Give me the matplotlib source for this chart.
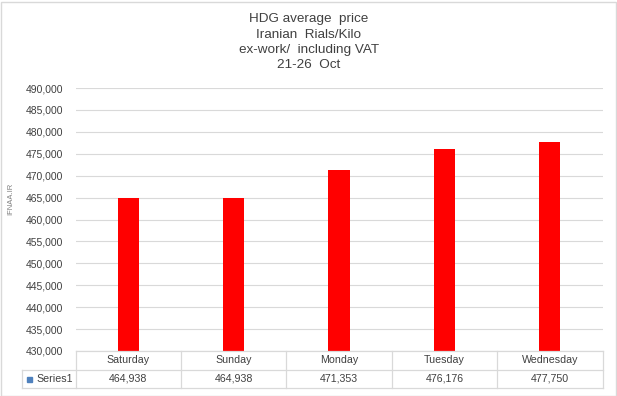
import numpy as np
import matplotlib.pyplot as plt
from matplotlib.lines import Line2D
from matplotlib.patches import Rectangle

# Data
DAYS = ['Saturday', 'Sunday', 'Monday', 'Tuesday', 'Wednesday']
PRICES = [464938, 464938, 471353, 476176, 477750]
SERIES_NAME = 'Series1'
TITLE_LINES = ['HDG average  price', 'Iranian  Rials/Kilo', 'ex-work/  including VAT', '21-26  Oct']
Y_MIN, Y_MAX, Y_STEP = 430000, 490000, 5000

W, H = 617, 396
GRID_COLOR = '#D9D9D9'
TEXT_COLOR = '#404040'
BAR_COLOR = '#FF0000'
TITLE_FONT = ['Liberation Sans Narrow', 'Liberation Sans', 'DejaVu Sans']
TICK_FONT = ['Liberation Sans', 'DejaVu Sans']


def px(x, y):
    """pixel (from top-left) to figure fraction"""
    return x / W, 1 - y / H


fig = plt.figure(figsize=(W / 100, H / 100), dpi=100)

# Plot area
left, right, top, bottom = 75.5, 602.5, 88, 351
ax = fig.add_axes([left / W, 1 - bottom / H, (right - left) / W, (bottom - top) / H])

x = np.arange(len(DAYS))
ax.bar(x, PRICES, width=0.2, color=BAR_COLOR, zorder=3)
ax.set_xlim(-0.5, len(DAYS) - 0.5)
ax.set_ylim(Y_MIN, Y_MAX)
ticks = np.arange(Y_MIN, Y_MAX + 1, Y_STEP)
ax.set_yticks(ticks)
ax.set_yticklabels([f'{t:,}' for t in ticks], fontsize=7.5, color=TEXT_COLOR, family=TICK_FONT)
ax.tick_params(axis='y', length=0, pad=9)
ax.set_xticks([])
ax.grid(axis='y', color=GRID_COLOR, lw=0.8, zorder=0)
for s in ax.spines.values():
    s.set_visible(False)

# Title
for i, line in enumerate(TITLE_LINES):
    fig.text(*px(309, 19 + i * 15.5), line, ha='center', va='center',
             fontsize=9.7, color=TEXT_COLOR, family=TITLE_FONT)

# Watermark
fig.text(*px(11, 199), 'IFNAA.IR', rotation=90, ha='center', va='center',
         fontsize=5.5, color='#7F7F7F', family=TICK_FONT)

# Data table below the plot
tab_left, tab_top, tab_mid, tab_bot = 22.5, 351, 369.5, 388
col_w = (right - left) / len(DAYS)
col_edges = [left + i * col_w for i in range(len(DAYS) + 1)]


def hline(y, x0, x1):
    fig.add_artist(Line2D([x0 / W, x1 / W], [1 - y / H, 1 - y / H], color=GRID_COLOR, lw=0.9))


def vline(xp, y0, y1):
    fig.add_artist(Line2D([xp / W, xp / W], [1 - y0 / H, 1 - y1 / H], color=GRID_COLOR, lw=0.9))


hline(tab_top, left, right)
hline(tab_mid, tab_left, right)
hline(tab_bot, tab_left, right)
vline(tab_left, tab_mid, tab_bot)
for xe in col_edges:
    vline(xe, tab_top, tab_bot)

for i, (day, val) in enumerate(zip(DAYS, PRICES)):
    cx = (col_edges[i] + col_edges[i + 1]) / 2
    fig.text(*px(cx, (tab_top + tab_mid) / 2), day, ha='center', va='center',
             fontsize=7.7, color=TEXT_COLOR, family=TICK_FONT)
    fig.text(*px(cx, (tab_mid + tab_bot) / 2), f'{val:,}', ha='center', va='center',
             fontsize=7.7, color=TEXT_COLOR, family=TICK_FONT)

# Legend key in the table
fig.add_artist(Rectangle(px(26.5, 382), 5 / W, 5 / H, color='#4F81BD'))
fig.text(*px(36, (tab_mid + tab_bot) / 2), SERIES_NAME, ha='left', va='center',
         fontsize=7.7, color=TEXT_COLOR, family=TICK_FONT)

# Chart border
fig.add_artist(Rectangle((0.5 / W, 0.5 / H), (W - 2) / W, (H - 2) / H, fill=False,
                         edgecolor=GRID_COLOR, lw=1))

fig.savefig('out.png', dpi=100)
